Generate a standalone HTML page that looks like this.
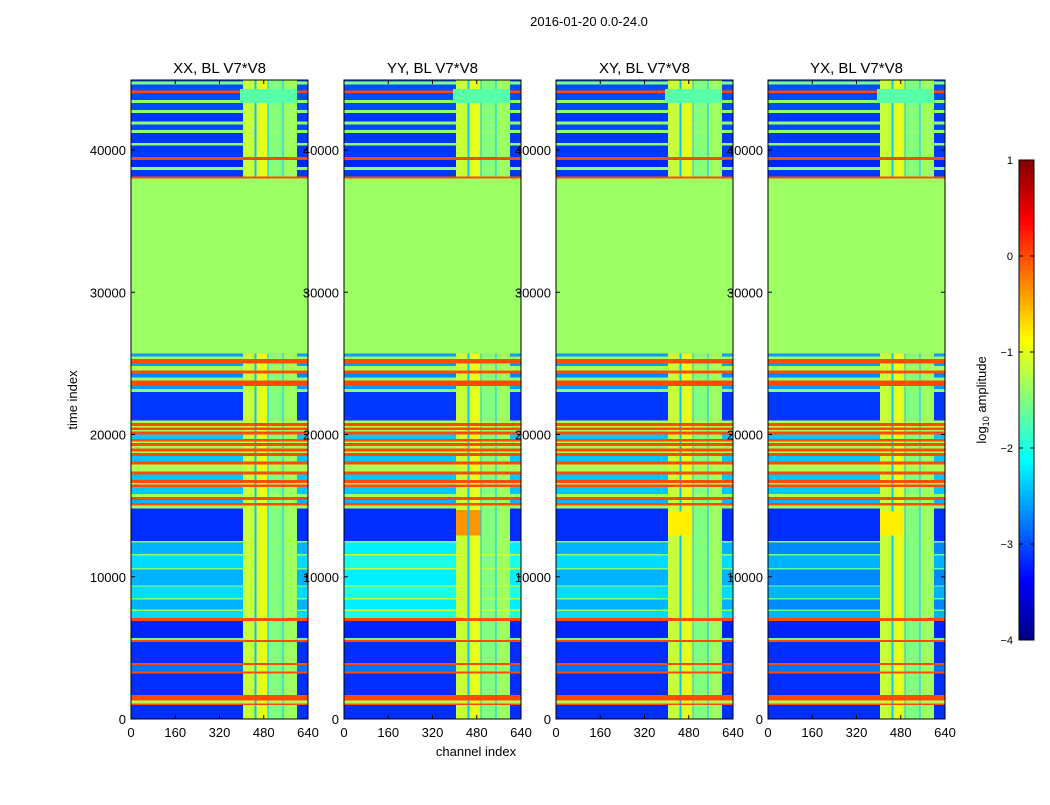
<!DOCTYPE html>
<html><head><meta charset="utf-8">
<style>
body{margin:0;background:#fff;font-family:"Liberation Sans",sans-serif;}
svg text{font-family:"Liberation Sans",sans-serif;fill:#000;}
</style></head>
<body>
<svg id="fig" width="1050" height="800" viewBox="0 0 1050 800" xmlns="http://www.w3.org/2000/svg">
<rect width="1050" height="800" fill="#fff"/>
<text x="589" y="26" font-size="13" text-anchor="middle">2016-01-20 0.0-24.0</text>
<text x="0" y="0" font-size="13" text-anchor="middle" transform="translate(77,400) rotate(-90)">time index</text>
<text x="476" y="756" font-size="13" text-anchor="middle">channel index</text>
<g id="panels"></g>
<g id="cbar"></g>
</svg>
<script>
const panelTitles = ["XX, BL V7*V8","YY, BL V7*V8","XY, BL V7*V8","YX, BL V7*V8"];
const xTicks = [0,160,320,480,640];
const yTicks = [0,10000,20000,30000,40000];
const cbTicks = [1,0,-1,-2,-3,-4];
const cbLabels = ["1","0","\u22121","\u22122","\u22123","\u22124"];
// time bands: start, end, log10 amplitude
const bandStart = [0,1000,1100,1300,1500,1700,3200,3350,3800,3950,5400,5550,5700,6900,7100,7600,7700,8400,8500,9300,9400,10500,10600,11500,11600,12400,12500,14800,15000,15200,15400,15600,15800,16300,16500,16600,16800,17200,17400,17900,18100,18500,18700,18800,19000,19200,19400,19500,19700,20000,20200,20300,20500,20600,20800,21000,23000,23200,23400,23800,24000,24300,24500,24800,25000,25300,25500,25700,38000,38150,38600,38800,39300,39500,40300,40500,41200,41400,41800,42000,42600,42800,43300,43500,44000,44200,44600,44800];
const bandEnd   = [1000,1100,1300,1500,1700,3200,3350,3800,3950,5400,5550,5700,6900,7100,7600,7700,8400,8500,9300,9400,10500,10600,11500,11600,12400,12500,14800,15000,15200,15400,15600,15800,16300,16500,16600,16800,17200,17400,17900,18100,18500,18700,18800,19000,19200,19400,19500,19700,20000,20200,20300,20500,20600,20800,21000,23000,23200,23400,23800,24000,24300,24500,24800,25000,25300,25500,25700,38000,38150,38600,38800,39300,39500,40300,40500,41200,41400,41800,42000,42600,42800,43300,43500,44000,44200,44600,44800,44950];
const bandLevel = [-3.15,0,-1.3,0,0,-3.15,0,-2.8,0,-3.15,0,-1.6,-3.2,0,-2.3,-1.4,-2.5,-1.5,-2.3,-1.4,-2.5,-1.5,-2.3,-1.4,-2.5,-1.4,-3.15,-1.4,0,-2.5,0,-1.3,-2.4,0,-1.4,0,-2.4,0,-1.3,0,-2.4,0,-1.3,0,-1.4,0,-1.3,0,-2.4,0,-1.4,0,-1.2,0,-1.3,-3.1,-1.4,-2.6,0,-1.4,-2.7,0,-1.3,-2.6,0,-1.4,-2.6,-1.36,0,-3.1,-1.4,-3.2,0,-3.1,-1.4,-3.1,-1.4,-3.0,-1.4,-3.1,-1.4,-3.0,-1.4,-3.0,0,-3.0,-1.5,-3.0];
// RFI channel columns
const chanStart = [405,447,453,494,498,548,552];
const chanEnd   = [447,453,494,498,548,552,600];
const chanLevel = [-1.15,null,-1.0,null,-1.5,null,-1.35];
const gapLevel = -2.4;
// per-panel offset for striped region (7100-12400)
const stripeShift = [0,0.3,0,-0.2];
// flat flagged region
const flatStart = 25700, flatEnd = 38000, flatLevel = -1.36;
// per-panel patches: panel, c0, c1, t0, t1, level
const patchPanel = [1,1,2,3,0,1,2,3];
const patchC0 = [405,453,405,405,395,395,395,395];
const patchC1 = [447,494,494,494,600,600,600,600];
const patchT0 = [12900,12900,12900,12900,43300,43300,43300,43300];
const patchT1 = [14700,14700,14600,14600,44300,44300,44300,44300];
const patchLevel = [-0.35,-0.35,-0.8,-0.8,-1.7,-1.7,-1.7,-1.7];

const panelLeft = [131,344,556,768];
const PW = 177, PT = 80, PB = 719, TMAX = 44950;
const NS = "http://www.w3.org/2000/svg";
function jet(v){
  const x = Math.max(0,Math.min(1,(v+4)/5));
  const c = t=>Math.round(255*Math.max(0,Math.min(1,1.5-Math.abs(4*x-t))));
  return `rgb(${c(3)},${c(2)},${c(1)})`;
}
function yS(t){return PB - t/40000*569;}
function mk(tag,attrs,parent){const e=document.createElementNS(NS,tag);for(const k in attrs)e.setAttribute(k,attrs[k]);parent.appendChild(e);return e;}
const panels = document.getElementById('panels');
panelTitles.forEach((title,p)=>{
  const L = panelLeft[p];
  const xS = c=>L + c/640*PW;
  const g = mk('g',{'shape-rendering':'crispEdges'},panels);
  
  
  for(let i=0;i<bandStart.length;i++){
    let lv = bandLevel[i];
    if(bandStart[i]>=7100 && bandEnd[i]<=12400) lv += stripeShift[p];
    const y0=yS(Math.min(bandEnd[i],TMAX)), y1=yS(bandStart[i]);
    let r = mk('rect',{x:L,y:y0,width:PW,height:y1-y0,fill:jet(lv)},g);
    
    
    for(let j=0;j<chanStart.length;j++){
      const vv = chanLevel[j]===null ? (lv<-1 ? gapLevel : lv) : Math.max(lv,chanLevel[j]);
      r = mk('rect',{x:xS(chanStart[j]),y:y0,width:xS(chanEnd[j])-xS(chanStart[j]),height:y1-y0,fill:jet(vv)},g);
      
      
    }
  }
  for(let k=0;k<patchPanel.length;k++){
    if(patchPanel[k]!==p) continue;
    const r = mk('rect',{x:xS(patchC0[k]),y:yS(patchT1[k]),width:xS(patchC1[k])-xS(patchC0[k]),height:yS(patchT0[k])-yS(patchT1[k]),fill:jet(patchLevel[k])},g);
    
    
  }
  const fr = mk('rect',{x:L,y:yS(flatEnd),width:PW,height:yS(flatStart)-yS(flatEnd),fill:jet(flatLevel)},g);
  
  
  const fl = mk('rect',{x:L,y:yS(38150),width:PW,height:yS(38000)-yS(38150),fill:jet(0)},g);
  
  
  const frame = mk('rect',{x:L,y:PT,width:PW,height:PB-PT,fill:'none',stroke:'#000','stroke-width':1},g);
  
  
  const t = mk('text',{x:L+PW/2,y:73,'font-size':15,'text-anchor':'middle'},panels);
  t.textContent=title;
  
  
  xTicks.forEach(v=>{
    const x=xS(v);
    mk('line',{x1:x,x2:x,y1:PB,y2:PB-4,stroke:'#000'},panels);
    mk('line',{x1:x,x2:x,y1:PT,y2:PT+4,stroke:'#000'},panels);
    const tx=mk('text',{x:x,y:737,'font-size':13,'text-anchor':'middle'},panels);
    tx.textContent=v;
    
    
  });
  yTicks.forEach(v=>{
    const y=yS(v);
    mk('line',{x1:L,x2:L+4,y1:y,y2:y,stroke:'#000'},panels);
    mk('line',{x1:L+PW,x2:L+PW-4,y1:y,y2:y,stroke:'#000'},panels);
    const ty=mk('text',{x:L-5,y:y+5,'font-size':13,'text-anchor':'end'},panels);
    ty.textContent=v;
    
    
  });
});
// colorbar
const cb = document.getElementById('cbar');
const CBX=1019, CBW=15, CBT=160, CBB=640;
const cbY = v=>CBB-(v+4)/5*(CBB-CBT);
for(let i=0;i<96;i++){
  const v0=-4+i*5/96, v1=-4+(i+1)*5/96;
  const r=mk('rect',{x:CBX,y:cbY(v1),width:CBW,height:cbY(v0)-cbY(v1)+0.6,fill:jet((v0+v1)/2),'shape-rendering':'crispEdges'},cb);
  
  
}
mk('rect',{x:CBX,y:CBT,width:CBW,height:CBB-CBT,fill:'none',stroke:'#000'},cb);
cbTicks.forEach((v,i)=>{
  const y=cbY(v);
  mk('line',{x1:CBX,x2:CBX+4,y1:y,y2:y,stroke:'#000'},cb);
  mk('line',{x1:CBX+CBW,x2:CBX+CBW-4,y1:y,y2:y,stroke:'#000'},cb);
  const t=mk('text',{x:CBX-6,y:y+4,'font-size':11,'text-anchor':'end'},cb);
  t.textContent=cbLabels[i];
  
  
});
const cl=mk('text',{x:0,y:0,'font-size':13,'text-anchor':'middle',transform:'translate(986,400) rotate(-90)'},cb);
cl.innerHTML='log<tspan font-size="9" dy="3">10</tspan><tspan dy="-3"> amplitude</tspan>';


</script>
</body></html>
